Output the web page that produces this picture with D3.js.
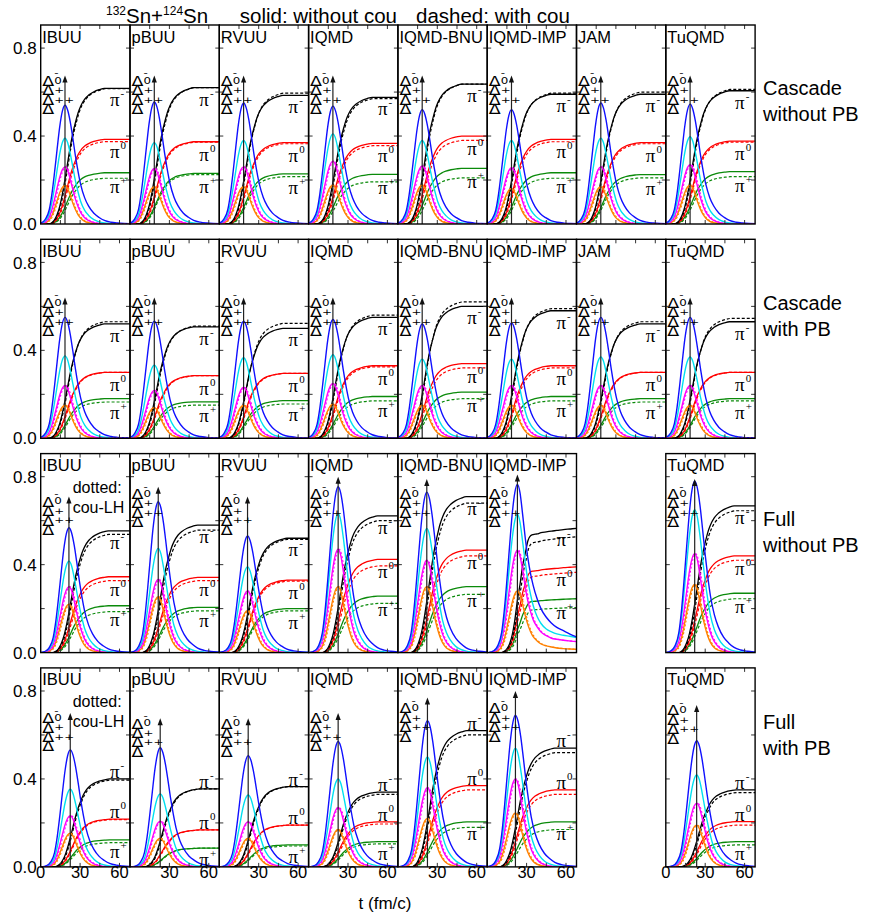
<!DOCTYPE html>
<html><head><meta charset="utf-8">
<script src="https://cdn.jsdelivr.net/npm/d3@7"></script>
<style>
body{margin:0;background:#fff}
svg{display:block}
text{font-family:"Liberation Sans",Arial,sans-serif;fill:#000}
</style>
</head><body>
<svg id="c" width="870" height="917"></svg>
<script>
// ---------------- data ----------------
const models = ["IBUU","pBUU","RVUU","IQMD","IQMD-BNU","IQMD-IMP","JAM","TuQMD"];
const rowTitles = [["Cascade","without PB"],["Cascade","with PB"],["Full","without PB"],["Full","with PB"]];
const yTickValues = [0, 0.4, 0.8];
const yTickLabels = ["0.0","0.4","0.8"];
const yMinorTicks = [0.2, 0.4, 0.6, 0.8];
const xMinorTicks = [15, 30, 45, 60];
const xTickValuesFirst = [0, 30, 60];
const xTickValuesOther = [30, 60];

// time grid relative to Delta peak (fm/c)
const dtGrid = [-22,-18,-15,-12,-10,-8,-6,-4,-2,0,2,4,6,8,10,12,15,18,22,26,30,35,40,45,50];
// normalised time profiles
const shapeBlue    = [0,.01,.04,.12,.25,.43,.63,.82,.95,1,.96,.86,.72,.57,.44,.33,.22,.15,.09,.055,.03,.015,.008,.004,.002];
const shapeCyan    = [0,.01,.04,.12,.25,.43,.63,.82,.95,1,.95,.82,.66,.50,.37,.26,.16,.10,.05,.025,.012,.005,.002,.001,0];
const shapeMagenta = [0,.01,.04,.12,.25,.43,.63,.82,.95,1,.94,.78,.60,.43,.30,.20,.11,.06,.025,.01,.004,0,0,0,0];
const shapeOrange  = [0,.005,.03,.10,.22,.40,.61,.81,.95,1,.92,.74,.54,.37,.24,.15,.07,.035,.012,.004,0,0,0,0,0];
const shapePi      = [0,0,0,0,.01,.03,.07,.13,.22,.33,.45,.57,.67,.75,.82,.87,.92,.95,.975,.99,1,1,1,1,1];
// IQMD-IMP "Full without PB" has long Delta tails and a sharp pion knee
const shapeBlueImp    = [0,.01,.04,.12,.25,.43,.63,.82,.95,1,.95,.82,.68,.56,.47,.40,.32,.26,.21,.175,.15,.13,.11,.094,.08];
const shapeCyanImp    = [0,.01,.04,.12,.25,.43,.63,.82,.95,1,.94,.80,.65,.52,.42,.34,.26,.21,.17,.15,.135,.125,.118,.11,.105];
const shapeMagentaImp = [0,.01,.04,.12,.25,.43,.63,.82,.95,1,.94,.80,.64,.50,.40,.32,.25,.20,.165,.14,.13,.12,.113,.107,.10];
const shapeOrangeImp  = [0,.005,.03,.10,.22,.40,.61,.81,.95,1,.93,.78,.60,.45,.34,.26,.19,.14,.11,.09,.075,.065,.058,.054,.05];
const shapePiImp      = [0,0,0,0,.01,.03,.07,.14,.26,.42,.55,.70,.80,.90,.94,.95,.955,.965,.972,.978,.983,.99,.995,1,1];

// per row (Cascade w/o PB, Cascade with PB, Full w/o PB, Full with PB) x per model
const peakTime = [
  [18.5,18.5,18.5,18.5,18.5,18.5,18.5,18.5],
  [18.5,18.5,18.5,18.5,18.5,18.5,18.5,18.5],
  [21.5,21.5,21.5,22.5,22,23,null,22],
  [22.5,23,22,22.5,22.5,21.5,null,23.5]];
const blueDelta = [
  [.54,.555,.55,.536,.52,.52,.55,.545],
  [.55,.533,.533,.54,.52,.525,.55,.55],
  [.568,.686,.53,.754,.73,.765,null,.78],
  [.532,.542,.506,.57,.665,.69,null,.574]];
const cyanDelta = [
  [.39,.37,.38,.41,.38,.38,.39,.397],
  [.375,.333,.366,.38,.36,.36,.37,.37],
  [.416,.474,.39,.633,.565,.63,null,.65],
  [.353,.332,.327,.40,.50,.54,null,.418]];
const magentaDelta = [
  [.26,.253,.26,.286,.264,.256,.26,.27],
  [.24,.218,.232,.25,.24,.24,.24,.24],
  [.30,.333,.28,.47,.42,.466,null,.45],
  [.233,.208,.206,.27,.36,.40,null,.29]];
const orangeDelta = [
  [.175,.17,.17,.177,.177,.162,.17,.177],
  [.15,.14,.15,.155,.15,.15,.15,.15],
  [.22,.254,.19,.30,.30,.28,null,.31],
  [.153,.13,.13,.17,.22,.245,null,.19]];
const piMinusSolid = [
  [.617,.62,.585,.576,.636,.59,.59,.606],
  [.52,.507,.50,.55,.60,.58,.52,.53],
  [.554,.58,.52,.622,.709,.565,null,.667],
  [.40,.355,.365,.34,.62,.54,null,.35]];
const piMinusDashed = [
  [.615,.62,.595,.57,.636,.595,.60,.612],
  [.53,.51,.523,.56,.62,.59,.53,.545],
  [.538,.557,.515,.60,.68,.527,null,.645],
  [.395,.355,.365,.33,.60,.52,null,.338]];
const piZeroSolid = [
  [.385,.374,.37,.367,.40,.385,.37,.377],
  [.30,.285,.295,.33,.34,.33,.30,.30],
  [.345,.342,.33,.424,.466,.39,null,.44],
  [.217,.168,.19,.205,.37,.35,null,.206]];
const piZeroDashed = [
  [.375,.372,.365,.356,.38,.374,.365,.372],
  [.30,.285,.295,.325,.32,.32,.30,.30],
  [.327,.327,.325,.394,.44,.365,null,.42],
  [.215,.168,.19,.195,.35,.33,null,.19]];
const piPlusSolid = [
  [.233,.23,.228,.226,.253,.233,.225,.238],
  [.18,.166,.171,.19,.21,.19,.18,.18],
  [.213,.206,.20,.257,.30,.245,null,.27],
  [.123,.085,.10,.115,.205,.205,null,.115]];
const piPlusDashed = [
  [.208,.225,.215,.192,.21,.208,.21,.215],
  [.165,.151,.156,.17,.18,.17,.165,.17],
  [.186,.19,.19,.224,.265,.205,null,.245],
  [.11,.085,.095,.105,.18,.17,null,.10]];
const arrowTip = [
  [.675,.675,.675,.675,.675,.675,.675,.675],
  [.64,.64,.64,.64,.64,.64,.64,.64],
  [.71,.754,.71,.80,.79,.81,null,.79],
  [.70,.676,.676,.70,.77,.80,null,.736]];

// ---------------- layout ----------------
const X_MAX = 68, Y_MAX = 0.905;
const left0 = 40.7, colW = 89.3, top0 = 25, rowPitch = 214.3, panelH = 199;
const COL = {blue:"#1010ff", cyan:"#00e0f0", magenta:"#ff00ff", orange:"#ff8000",
             black:"#000", red:"#ff0000", green:"#0a8a0a"};

const svg = d3.select("#c");
const x = d3.scaleLinear().domain([0, X_MAX]).range([0, colW]);
const y = d3.scaleLinear().domain([0, Y_MAX]).range([panelH, 0]);
const line = d3.line().x(d => x(d.t)).y(d => y(d.v)).curve(d3.curveMonotoneX);
const series = (tp, amp, shape) => dtGrid.map((dt, i) => ({t: tp + dt, v: amp * shape[i]}));

const defs = svg.append("defs");

// title
const title = svg.append("text").attr("x", 106).attr("y", 23).style("font-size", "20.5px");
title.append("tspan").text("132").style("font-size", "12px").attr("dy", -8);
title.append("tspan").text("Sn+").attr("dy", 8);
title.append("tspan").text("124").style("font-size", "12px").attr("dy", -8);
title.append("tspan").text("Sn").attr("dy", 8);
svg.append("text").attr("x", 397).attr("y", 23).attr("text-anchor", "end").style("font-size", "20.5px").text("solid: without cou");
svg.append("text").attr("x", 416).attr("y", 23).style("font-size", "20.5px").text("dashed: with cou");

// right-hand row titles
const rowTitleY = [95, 310, 526, 729];
rowTitles.forEach((tt, r) => {
  const t = svg.append("text").attr("x", 763).attr("y", rowTitleY[r]).style("font-size", "20px");
  tt.forEach((s, k) => t.append("tspan").attr("x", 763).attr("y", rowTitleY[r] + k * 25.5).text(s));
});

// x axis title
svg.append("text").attr("x", 385).attr("y", 909).attr("text-anchor", "middle").style("font-size", "17px").text("t (fm/c)");

for (let r = 0; r < 4; r++) {
  for (let c = 0; c < 8; c++) {
    if (blueDelta[r][c] == null) continue;
    const gx = left0 + c * colW, gy = top0 + r * rowPitch;
    const g = svg.append("g").attr("transform", `translate(${gx},${gy})`);
    const cid = `clip${r}_${c}`;
    defs.append("clipPath").attr("id", cid).append("rect").attr("width", colW).attr("height", panelH);
    const cg = g.append("g").attr("clip-path", `url(#${cid})`);
    const imp = (r === 2 && c === 5);
    const tp = peakTime[r][c];

    const deltas = [
      [orangeDelta, imp ? shapeOrangeImp : shapeOrange, COL.orange],
      [magentaDelta, imp ? shapeMagentaImp : shapeMagenta, COL.magenta],
      [cyanDelta, imp ? shapeCyanImp : shapeCyan, COL.cyan],
      [blueDelta, imp ? shapeBlueImp : shapeBlue, COL.blue]];
    const piShape = imp ? shapePiImp : shapePi;
    const pions = [
      [piPlusSolid, piPlusDashed, COL.green],
      [piZeroSolid, piZeroDashed, COL.red],
      [piMinusSolid, piMinusDashed, COL.black]];

    // pions (solid + dashed)
    pions.forEach(([sol, das, col]) => {
      cg.append("path").attr("d", line(series(tp, sol[r][c], piShape)))
        .attr("fill", "none").attr("stroke", col).attr("stroke-width", 1.3);
      cg.append("path").attr("d", line(series(tp + 0.6, das[r][c], piShape)))
        .attr("fill", "none").attr("stroke", col).attr("stroke-width", 1.2).attr("stroke-dasharray", "3,2");
    });
    // deltas
    deltas.forEach(([arr, shp, col]) => {
      cg.append("path").attr("d", line(series(tp, arr[r][c], shp)))
        .attr("fill", "none").attr("stroke", col).attr("stroke-width", 1.4);
    });
    // dashed deltas (with Coulomb)
    deltas.slice(0, 2).forEach(([arr, shp, col]) => {
      cg.append("path").attr("d", line(series(tp + 0.8, arr[r][c], shp)))
        .attr("fill", "none").attr("stroke", col).attr("stroke-width", 1.1).attr("stroke-dasharray", "2,2");
    });

    // arrow
    const ax = x(tp), at = y(arrowTip[r][c]);
    g.append("line").attr("x1", ax).attr("x2", ax).attr("y1", y(0)).attr("y2", at + 5)
      .attr("stroke", "#222").attr("stroke-width", 1.2);
    g.append("path").attr("d", `M${ax},${at} L${ax - 2.6},${at + 7} L${ax + 2.6},${at + 7} Z`).attr("fill", "#111");

    // Delta labels: one text element, stacked and overlapping as in the original
    const lt = y(Math.min(arrowTip[r][c], 0.745));
    const dt = g.append("text").attr("transform", `translate(1.5,${lt}) scale(1.25,1)`)
      .style("font-family", "'DejaVu Sans',sans-serif");
    [0, 1, 2, 3].forEach(k => dt.append("tspan").attr("x", 0).attr("y", 10.3 + k * 9.4)
      .style("font-size", "14px").text("Δ"));
    [["-", 0.8], ["0", 8], ["+", 17.5], ["++", 27]].forEach(([s, yy]) =>
      dt.append("tspan").attr("x", 9.6).attr("y", yy).style("font-size", "9.5px")
        .attr("transform", null).text(s));

    // pion labels
    const offs = r === 3 ? [-1, -1, 18] : [18, 19, 20];
    [[piMinusSolid, "-"], [piZeroSolid, "0"], [piPlusSolid, "+"]].forEach(([arr, ch], k) => {
      const t = g.append("text").attr("x", colW - 20).attr("y", y(arr[r][c]) + offs[k])
        .style("font-family", "'Liberation Serif','DejaVu Serif',serif").style("font-size", "19px");
      t.append("tspan").text("π");
      t.append("tspan").text(ch).style("font-size", "11px").attr("dy", -9).attr("dx", 1);
    });

    // model name
    g.append("text").attr("x", 1.5).attr("y", 17.5).style("font-size", "16.5px").text(models[c]);
    if (c === 0 && r >= 2) {
      const t = g.append("text").attr("x", 32).attr("y", 39).style("font-size", "16px");
      t.append("tspan").attr("x", 32).attr("y", 39).text("dotted:");
      t.append("tspan").attr("x", 32).attr("y", 59).text("cou-LH");
    }

    // minor ticks
    yMinorTicks.forEach(v => {
      g.append("line").attr("x1", 0).attr("x2", 4).attr("y1", y(v)).attr("y2", y(v)).attr("stroke", "#333");
      g.append("line").attr("x1", colW - 4).attr("x2", colW).attr("y1", y(v)).attr("y2", y(v)).attr("stroke", "#333");
    });
    xMinorTicks.forEach(v => {
      g.append("line").attr("x1", x(v)).attr("x2", x(v)).attr("y1", panelH).attr("y2", panelH - 4).attr("stroke", "#333");
      g.append("line").attr("x1", x(v)).attr("x2", x(v)).attr("y1", 0).attr("y2", 4).attr("stroke", "#333");
    });
    // frame
    g.append("rect").attr("width", colW).attr("height", panelH).attr("fill", "none")
      .attr("stroke", "#000").attr("stroke-width", 1.4);

    // y tick labels
    if (c === 0) {
      yTickValues.forEach((v, i) => g.append("text").attr("x", -4).attr("y", y(v)).attr("dy", "0.36em")
        .attr("text-anchor", "end").style("font-size", "17px").text(yTickLabels[i]));
    }
    // x tick labels
    if (r === 3) {
      const xt = (c === 0 || c === 7) ? xTickValuesFirst : xTickValuesOther;
      xt.forEach(v => g.append("text").attr("x", x(v)).attr("y", panelH + 11.5)
        .attr("text-anchor", "middle").style("font-size", "16.5px").text(v));
    }
  }
}
</script>
</body></html>
